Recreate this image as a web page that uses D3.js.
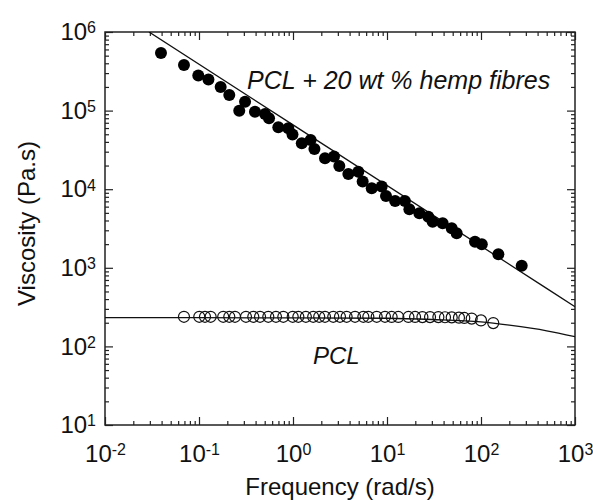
<!DOCTYPE html>
<html>
<head>
<meta charset="utf-8">
<script src="https://cdn.jsdelivr.net/npm/d3@7"></script>
<style>
  body { margin: 0; background: #fff; }
</style>
</head>
<body>
<div id="chart"></div>
<script>
// PCL + 20 wt % hemp fibres (filled circles)
const fibreFreq = [0.0394, 0.0692, 0.0983, 0.126, 0.170, 0.210, 0.268, 0.309, 0.394, 0.504, 0.556, 0.698, 0.891, 0.988,
    1.24, 1.54, 1.69, 2.19, 2.73, 3.11, 3.88, 4.95, 5.51, 6.88, 8.78, 9.76, 12.2, 15.5, 17.3, 22.1, 27.5, 30.6,
    39.1, 48.8, 55.1, 86.3, 102, 153, 271]
const fibreVisc = [5.41e5, 3.80e5, 2.80e5, 2.49e5, 2.00e5, 1.58e5, 9.97e4, 1.30e5, 9.68e4, 9.05e4, 7.98e4, 6.13e4, 5.95e4, 4.97e4,
    3.84e4, 4.23e4, 3.25e4, 2.47e4, 2.61e4, 1.97e4, 1.56e4, 1.67e4, 1.25e4, 1.03e4, 1.08e4, 8.19e3, 7.08e3, 7.08e3, 5.55e3, 4.94e3, 4.47e3, 3.86e3,
    3.68e3, 3.18e3, 2.75e3, 2.15e3, 1.99e3, 1.49e3, 1.06e3]

// neat PCL (open circles)
const pclFreq = [0.0692, 0.1007, 0.1158, 0.133, 0.181, 0.210, 0.2415, 0.316, 0.378, 0.446, 0.546, 0.659, 0.789, 0.993,
    1.14, 1.37, 1.64, 1.90, 2.19, 2.68, 3.16, 3.72, 4.57, 5.6, 6.33, 7.77, 9.52, 11.2, 13.2, 16.9, 19.9, 23.8, 28.7,
    35.2, 41.4, 48.8, 58.3, 66.4, 79.6, 100, 135]
const pclVisc = [238, 238, 238, 238, 238, 238, 238, 238, 238, 238, 238, 238, 238, 238,
    238, 238, 238, 238, 238, 238, 238, 238, 238, 238, 238, 238, 238, 237, 237, 237, 237, 236, 236,
    236, 235, 234, 232, 230, 226, 214, 198]

// fitted curves
const fibreFitFreq = [0.0294, 1, 1000]
const fibreFitVisc = [1e6, 6.59e4, 320]
const pclFitFreq = [0.01, 1, 10, 30, 100, 200, 500, 1000]
const pclFitVisc = [232, 231, 228, 220, 205, 186, 158, 133]

const decades = [0.01, 0.1, 1, 10, 100, 1000]
const yDecades = [10, 100, 1e3, 1e4, 1e5, 1e6]

const width = 593, height = 500
const margin = {top: 32, right: 18, bottom: 75, left: 105}
const innerW = width - margin.left - margin.right
const innerH = height - margin.top - margin.bottom
const FONT = '"Liberation Sans", Arial, Helvetica, sans-serif'

const x = d3.scaleLog().domain([0.01, 1000]).range([0, innerW])
const y = d3.scaleLog().domain([10, 1e6]).range([innerH, 0])

const minorOf = (dec) => {
    let out = []
    for (let i = 0; i < dec.length - 1; i++)
        for (let k = 2; k <= 9; k++) out.push(dec[i] * k)
    return out
}

const svg = d3.select('#chart').append('svg')
    .attr('width', width)
    .attr('height', height)
    .attr('font-family', FONT)

const g = svg.append('g').attr('transform', `translate(${margin.left},${margin.top})`)

// superscript labels like 10^-2
function powerLabels(sel) {
    sel.selectAll('.tick text').each(function(d) {
        const t = d3.select(this)
        t.text(null)
        t.append('tspan').text('10')
        t.append('tspan').attr('dy', '-0.42em').attr('font-size', 16).text(Math.round(Math.log10(d)))
    })
}

function styleAxis(sel) {
    sel.select('.domain').remove()
    sel.selectAll('.tick line').attr('stroke', '#222').attr('stroke-width', 1.2)
    sel.selectAll('.tick text').attr('fill', '#111').attr('font-size', 24).attr('font-family', FONT)
}

// bottom
g.append('g').attr('transform', `translate(0,${innerH})`)
    .call(d3.axisBottom(x).tickValues(decades).tickSizeInner(-8).tickSizeOuter(0).tickPadding(20))
    .call(styleAxis).call(powerLabels)
g.append('g').attr('transform', `translate(0,${innerH})`)
    .call(d3.axisBottom(x).tickValues(minorOf(decades)).tickSize(-4).tickFormat(''))
    .call(styleAxis)
// top
g.append('g')
    .call(d3.axisTop(x).tickValues(decades).tickSize(-8).tickFormat(''))
    .call(styleAxis)
g.append('g')
    .call(d3.axisTop(x).tickValues(minorOf(decades)).tickSize(-4).tickFormat(''))
    .call(styleAxis)
// left
g.append('g')
    .call(d3.axisLeft(y).tickValues(yDecades).tickSizeInner(-8).tickSizeOuter(0).tickPadding(9))
    .call(styleAxis).call(powerLabels)
g.append('g')
    .call(d3.axisLeft(y).tickValues(minorOf(yDecades)).tickSize(-4).tickFormat(''))
    .call(styleAxis)
// right
g.append('g').attr('transform', `translate(${innerW},0)`)
    .call(d3.axisRight(y).tickValues(yDecades).tickSize(-8).tickFormat(''))
    .call(styleAxis)
g.append('g').attr('transform', `translate(${innerW},0)`)
    .call(d3.axisRight(y).tickValues(minorOf(yDecades)).tickSize(-4).tickFormat(''))
    .call(styleAxis)

// frame
g.append('rect')
    .attr('width', innerW).attr('height', innerH)
    .attr('fill', 'none').attr('stroke', '#222').attr('stroke-width', 1.5)

g.append('clipPath').attr('id', 'plotclip')
    .append('rect').attr('width', innerW).attr('height', innerH)

const line = d3.line().x(d => x(d[0])).y(d => y(d[1])).curve(d3.curveMonotoneX)

g.append('path')
    .datum(d3.zip(fibreFitFreq, fibreFitVisc))
    .attr('clip-path', 'url(#plotclip)')
    .attr('fill', 'none').attr('stroke', '#111').attr('stroke-width', 1.3)
    .attr('d', line)

g.append('path')
    .datum(d3.zip(pclFitFreq, pclFitVisc))
    .attr('clip-path', 'url(#plotclip)')
    .attr('fill', 'none').attr('stroke', '#111').attr('stroke-width', 1.3)
    .attr('d', line)

g.append('g').selectAll('circle')
    .data(d3.zip(fibreFreq, fibreVisc))
    .join('circle')
    .attr('cx', d => x(d[0]))
    .attr('cy', d => y(d[1]))
    .attr('r', 6)
    .attr('fill', '#000')

g.append('g').selectAll('circle')
    .data(d3.zip(pclFreq, pclVisc))
    .join('circle')
    .attr('cx', d => x(d[0]))
    .attr('cy', d => y(d[1]))
    .attr('r', 5.5)
    .attr('fill', 'none')
    .attr('stroke', '#111')
    .attr('stroke-width', 1.2)

// annotations
g.append('text')
    .attr('x', 142).attr('y', 57)
    .attr('font-size', 25).attr('font-style', 'italic').attr('fill', '#111')
    .text('PCL + 20 wt % hemp fibres')

g.append('text')
    .attr('x', 208).attr('y', 332)
    .attr('font-size', 24).attr('font-style', 'italic').attr('fill', '#111')
    .text('PCL')

// axis titles
svg.append('text')
    .attr('x', margin.left + innerW / 2).attr('y', 495)
    .attr('text-anchor', 'middle').attr('font-size', 24).attr('fill', '#111')
    .text('Frequency (rad/s)')

svg.append('text')
    .attr('transform', `translate(35,${margin.top + innerH / 2 - 5}) rotate(-90)`)
    .attr('text-anchor', 'middle').attr('font-size', 24).attr('fill', '#111')
    .text('Viscosity (Pa.s)')
</script>
</body>
</html>
